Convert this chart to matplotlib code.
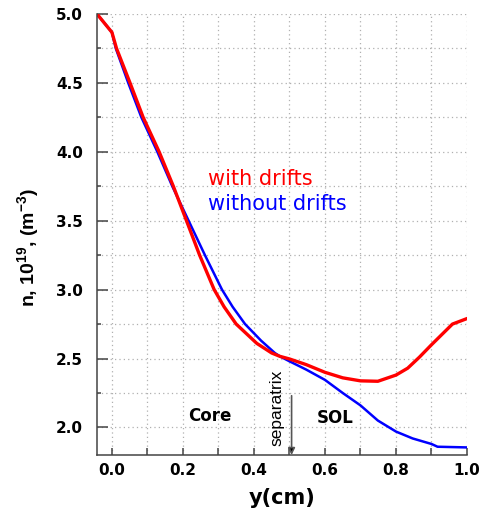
import matplotlib
matplotlib.use("Agg")
import matplotlib.pyplot as plt
from matplotlib.ticker import MultipleLocator

plt.rcParams["mathtext.fontset"] = "custom"
plt.rcParams["mathtext.rm"] = "Liberation Sans:bold"
plt.rcParams["mathtext.bf"] = "Liberation Sans:bold"
plt.rcParams["mathtext.it"] = "Liberation Sans:bold"

# radial position (cm) and density (1e19 m^-3)
y_drift = [-0.042, 0.0, 0.013, 0.051, 0.088, 0.133, 0.173, 0.21, 0.247,
           0.288, 0.316, 0.35, 0.408, 0.45, 0.473, 0.50, 0.547, 0.60, 0.65,
           0.70, 0.749, 0.80, 0.833, 0.866, 0.90, 0.959, 1.0]
n_drift = [5.0, 4.867, 4.75, 4.5, 4.25, 4.0, 3.75, 3.5, 3.25,
           3.0, 2.875, 2.75, 2.61, 2.54, 2.516, 2.497, 2.456, 2.40, 2.36,
           2.338, 2.335, 2.38, 2.43, 2.51, 2.60, 2.75, 2.79]

y_nodrift = [-0.042, 0.0, 0.011, 0.046, 0.083, 0.128, 0.170, 0.216, 0.262,
             0.31, 0.34, 0.375, 0.42, 0.459, 0.473, 0.50, 0.547, 0.60, 0.65,
             0.70, 0.749, 0.80, 0.847, 0.90, 0.917, 0.95, 1.0]
n_nodrift = [5.0, 4.867, 4.75, 4.5, 4.25, 4.0, 3.75, 3.5, 3.25,
             3.0, 2.875, 2.75, 2.63, 2.54, 2.516, 2.48, 2.42, 2.345, 2.25,
             2.16, 2.05, 1.97, 1.92, 1.88, 1.86, 1.858, 1.855]

separatrix = 0.506

fig = plt.figure(figsize=(4.8, 5.17), dpi=100)
ax = fig.add_axes([97 / 480, 1 - 455 / 517, 370 / 480, 441 / 517])

ax.plot(y_nodrift, n_nodrift, color="#0000ff", lw=1.8)
ax.plot(y_drift, n_drift, color="#ff0000", lw=2.4)

ax.set_xlim(-0.042, 1.0)
ax.set_ylim(1.80, 5.0)

ax.xaxis.set_major_locator(MultipleLocator(0.2))
ax.xaxis.set_minor_locator(MultipleLocator(0.1))
ax.yaxis.set_major_locator(MultipleLocator(0.5))
ax.yaxis.set_minor_locator(MultipleLocator(0.25))

ax.grid(which="both", color="#b0b0b0", ls=(0, (1, 2.5)), lw=0.9)
ax.set_axisbelow(True)

for side in ("top", "right"):
    ax.spines[side].set_visible(False)
for side in ("left", "bottom"):
    ax.spines[side].set_color("#444444")
    ax.spines[side].set_linewidth(1.1)

ax.tick_params(axis="both", which="both", direction="in", color="#444444", width=1.1)
ax.tick_params(axis="x", which="both", length=5, pad=6)
ax.tick_params(axis="y", which="major", length=8, pad=10)
ax.tick_params(axis="y", which="minor", length=3)
for lbl in ax.get_xticklabels() + ax.get_yticklabels():
    lbl.set_fontweight("bold")
    lbl.set_fontsize(11)

ax.set_xlabel("y(cm)", fontsize=15, fontweight="bold")
ax.set_ylabel("n, 10$^{19}$, (m$^{-3}$)", fontsize=14, fontweight="bold",
              family="Liberation Sans")
ax.xaxis.set_label_coords(0.50, -0.075)
ax.yaxis.set_label_coords(-0.15, 0.47)

ax.text(0.27, 3.80, "with drifts", color="#ff0000", fontsize=15, va="center")
ax.text(0.27, 3.62, "without drifts", color="#0000ff", fontsize=15, va="center")

ax.text(0.214, 2.08, "Core", fontsize=12, fontweight="bold", va="center")
ax.text(0.577, 2.07, "SOL", fontsize=12, fontweight="bold", va="center")
ax.text(0.466, 2.14, "separatrix", fontsize=12.5, rotation=90, ha="center",
        va="center", family="Liberation Sans")
ax.annotate("", xy=(separatrix, 1.80), xytext=(separatrix, 2.23),
            arrowprops=dict(arrowstyle="-|>", color="#555555", lw=1.2,
                            mutation_scale=10, shrinkA=0, shrinkB=0,
                            fc="black"))

fig.savefig("out.png", dpi=100)
